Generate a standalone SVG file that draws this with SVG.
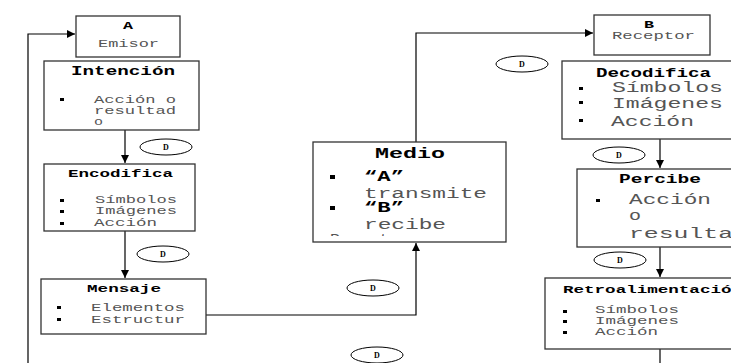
<svg xmlns="http://www.w3.org/2000/svg" width="731" height="363" viewBox="0 0 731 363">
<style>
.box{fill:#fff;stroke:#333;stroke-width:1.3}
.t{font-family:"Liberation Mono","Courier New",monospace;font-weight:bold;fill:#000}
.b{font-family:"Liberation Mono","Courier New",monospace;fill:#555}
.s11{font-size:11px}.s12{font-size:12px}.s14{font-size:14px}.s15{font-size:14.5px}
.bul{fill:#000}
.ln{fill:none;stroke:#000;stroke-width:1.2}
.ell{fill:#fff;stroke:#000;stroke-width:1}
.d{font-family:"Liberation Serif",serif;font-weight:bold;font-size:8px;fill:#000}
</style>
<defs>
<marker id="ah" markerWidth="8" markerHeight="8" refX="8" refY="4" orient="auto" markerUnits="userSpaceOnUse">
<path d="M0,0 L8,4 L0,8 Z" fill="#000"/>
</marker>
<clipPath id="medioClip"><rect x="314" y="143" width="191" height="93"/></clipPath>
</defs>
<rect width="731" height="363" fill="#fff"/>

<g id="connectors">
<path class="ln" d="M28,363 V34 H75" marker-end="url(#ah)"/>
<path class="ln" d="M125,130 V163" marker-end="url(#ah)"/>
<path class="ln" d="M125,231 V278" marker-end="url(#ah)"/>
<path class="ln" d="M206,315 H416 V243" marker-end="url(#ah)"/>
<path class="ln" d="M416,142 V33 H593" marker-end="url(#ah)"/>
<path class="ln" d="M660,139 V168" marker-end="url(#ah)"/>
<path class="ln" d="M660,247 V277" marker-end="url(#ah)"/>
<path class="ln" d="M660,349 V363"/>
</g>

<g id="A">
<rect class="box" x="76" y="16" width="104" height="41"/>
<text class="t s11" x="123" y="29" textLength="10" lengthAdjust="spacingAndGlyphs">A</text>
<text class="b s11" x="98" y="47" textLength="61" lengthAdjust="spacingAndGlyphs">Emisor</text>
</g>

<g id="intencion">
<rect class="box" x="44" y="61" width="155" height="69"/>
<text class="t s12" x="71" y="75" textLength="104" lengthAdjust="spacingAndGlyphs">Intención</text>
<rect class="bul" x="60" y="98" width="4" height="3"/>
<text class="b s11" x="94" y="103" textLength="82" lengthAdjust="spacingAndGlyphs">Acción o</text>
<text class="b s11" x="94" y="114" textLength="82" lengthAdjust="spacingAndGlyphs">resultad</text>
<text class="b s11" x="94" y="125" textLength="9" lengthAdjust="spacingAndGlyphs">o</text>
</g>

<g id="encodifica">
<rect class="box" x="44" y="164" width="151" height="67"/>
<text class="t s11" x="68" y="177" textLength="105" lengthAdjust="spacingAndGlyphs">Encodifica</text>
<rect class="bul" x="60" y="199" width="4" height="3"/>
<rect class="bul" x="60" y="210" width="4" height="3"/>
<rect class="bul" x="60" y="222" width="4" height="3"/>
<text class="b s11" x="95" y="203" textLength="82" lengthAdjust="spacingAndGlyphs">Símbolos</text>
<text class="b s11" x="95" y="214" textLength="82" lengthAdjust="spacingAndGlyphs">Imágenes</text>
<text class="b s11" x="94" y="226" textLength="63" lengthAdjust="spacingAndGlyphs">Acción</text>
</g>

<g id="mensaje">
<rect class="box" x="41" y="279" width="165" height="55"/>
<text class="t s11" x="87" y="292" textLength="74" lengthAdjust="spacingAndGlyphs">Mensaje</text>
<rect class="bul" x="57" y="306" width="4" height="3"/>
<rect class="bul" x="57" y="318" width="4" height="3"/>
<text class="b s11" x="91" y="311" textLength="94" lengthAdjust="spacingAndGlyphs">Elementos</text>
<text class="b s11" x="91" y="323" textLength="94" lengthAdjust="spacingAndGlyphs">Estructur</text>
</g>

<g id="medio">
<rect class="box" x="313" y="142" width="193" height="100"/>
<text class="t s15" x="375" y="158" textLength="70" lengthAdjust="spacingAndGlyphs">Medio</text>
<rect class="bul" x="330" y="175" width="5" height="4"/>
<text class="t s15" x="364" y="181" textLength="40" lengthAdjust="spacingAndGlyphs">“A”</text>
<text class="b s15" x="364" y="198" textLength="123" lengthAdjust="spacingAndGlyphs">transmite</text>
<rect class="bul" x="330" y="206" width="5" height="4"/>
<text class="t s15" x="364" y="212" textLength="40" lengthAdjust="spacingAndGlyphs">“B”</text>
<text class="b s15" x="364" y="229" textLength="82" lengthAdjust="spacingAndGlyphs">recibe</text>
<text class="b s15" x="330" y="244" textLength="69" lengthAdjust="spacingAndGlyphs" clip-path="url(#medioClip)">Ponente</text>
</g>

<g id="B">
<rect class="box" x="594" y="15" width="116" height="40"/>
<text class="t s11" x="644" y="28" textLength="10" lengthAdjust="spacingAndGlyphs">B</text>
<text class="b s11" x="612" y="39" textLength="83" lengthAdjust="spacingAndGlyphs">Receptor</text>
</g>

<g id="decodifica">
<rect class="box" x="562" y="61" width="180" height="78"/>
<text class="t s12" x="596" y="77" textLength="115" lengthAdjust="spacingAndGlyphs">Decodifica</text>
<rect class="bul" x="579" y="87" width="4" height="3"/>
<rect class="bul" x="579" y="101" width="4" height="3"/>
<rect class="bul" x="579" y="119" width="4" height="3"/>
<text class="b s14" x="612" y="92" textLength="111" lengthAdjust="spacingAndGlyphs">Símbolos</text>
<text class="b s14" x="612" y="108" textLength="111" lengthAdjust="spacingAndGlyphs">Imágenes</text>
<text class="b s14" x="611" y="126" textLength="83" lengthAdjust="spacingAndGlyphs">Acción</text>
</g>

<g id="percibe">
<rect class="box" x="577" y="169" width="165" height="78"/>
<text class="t s12" x="619" y="183" textLength="82" lengthAdjust="spacingAndGlyphs">Percibe</text>
<rect class="bul" x="596" y="199" width="4" height="3"/>
<text class="b s14" x="629" y="204" textLength="82" lengthAdjust="spacingAndGlyphs">Acción</text>
<text class="b s14" x="629" y="220" textLength="12" lengthAdjust="spacingAndGlyphs">o</text>
<text class="b s14" x="629" y="238" textLength="104" lengthAdjust="spacingAndGlyphs">resulta</text>
</g>

<g id="retroalimentacion">
<rect class="box" x="545" y="278" width="197" height="71"/>
<text class="t s11" x="563" y="293" textLength="179" lengthAdjust="spacingAndGlyphs">Retroalimentación</text>
<rect class="bul" x="563" y="310" width="4" height="3"/>
<rect class="bul" x="563" y="320" width="4" height="3"/>
<rect class="bul" x="563" y="331" width="4" height="3"/>
<text class="b s11" x="595" y="313" textLength="84" lengthAdjust="spacingAndGlyphs">Símbolos</text>
<text class="b s11" x="595" y="324" textLength="84" lengthAdjust="spacingAndGlyphs">Imágenes</text>
<text class="b s11" x="595" y="335" textLength="63" lengthAdjust="spacingAndGlyphs">Acción</text>
</g>

<g id="labels">
<ellipse class="ell" cx="166" cy="147" rx="26" ry="8"/><text class="d" x="166" y="150" text-anchor="middle">D</text>
<ellipse class="ell" cx="163" cy="254" rx="26" ry="8"/><text class="d" x="163" y="257" text-anchor="middle">D</text>
<ellipse class="ell" cx="373" cy="288" rx="26" ry="8"/><text class="d" x="373" y="291" text-anchor="middle">D</text>
<ellipse class="ell" cx="377" cy="355" rx="26" ry="8"/><text class="d" x="377" y="358" text-anchor="middle">D</text>
<ellipse class="ell" cx="522" cy="64" rx="26" ry="8"/><text class="d" x="522" y="67" text-anchor="middle">D</text>
<ellipse class="ell" cx="619" cy="155" rx="26" ry="8"/><text class="d" x="619" y="158" text-anchor="middle">D</text>
<ellipse class="ell" cx="620" cy="260" rx="26" ry="8"/><text class="d" x="620" y="263" text-anchor="middle">D</text>
</g>
</svg>
